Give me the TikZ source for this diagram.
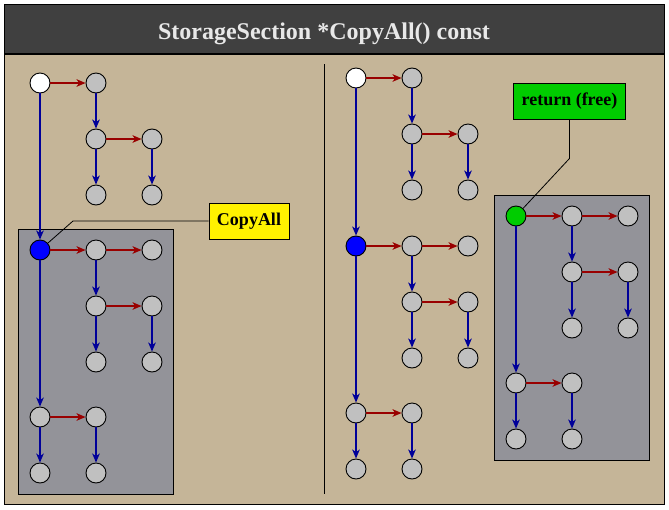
\documentclass[tikz,border=0pt]{standalone}
\usepackage{fontspec}
\setmainfont{Liberation Serif}
\usepackage{tikz}
\usetikzlibrary{arrows.meta,positioning,fit,backgrounds,calc}
\definecolor{sand}{RGB}{197,181,152}
\definecolor{titlebar}{RGB}{64,64,64}
\definecolor{headtext}{RGB}{232,232,232}
\definecolor{panegray}{RGB}{147,147,153}
\definecolor{cellgray}{RGB}{192,192,192}
\definecolor{nextred}{RGB}{153,0,0}
\definecolor{downblue}{RGB}{0,0,153}
\definecolor{markblue}{RGB}{0,0,255}
\definecolor{markgreen}{RGB}{0,204,0}
\tikzset{
	cell/.style={circle, draw=black, fill=cellgray, minimum size=20pt,
		inner sep=0pt, line width=0.9pt},
	link/.style={line width=2pt, -{Stealth[length=9pt,width=7.5pt,inset=2.5pt]}},
	nx/.style={link, draw=nextred},
	dn/.style={link, draw=downblue},
	pane/.style={draw=black, fill=panegray, line width=0.9pt,
		inner xsep=11.3pt, inner ysep=10.5pt},
	tag/.style={draw=black, line width=0.9pt, minimum height=36pt, inner xsep=8pt,
		font=\bfseries\fontsize{18}{21}\selectfont},
	leader/.style={draw=black, line width=0.8pt},
	frame/.style={draw=black, line width=1.3pt},
	headline/.style={text=headtext, anchor=base,
		font=\bfseries\fontsize{24}{28}\selectfont}
}
% small fork hanging to the right of #1
\newcommand{\twig}[1]{%
	\node[cell, right=of #1]    (#1r)    {};
	\node[cell, below=of #1r]   (#1rd)   {};
	\node[cell, right=of #1rd]  (#1rdr)  {};
	\node[cell, below=of #1rd]  (#1rdd)  {};
	\node[cell, below=of #1rdr] (#1rdrd) {};
	\draw[nx] (#1) -- (#1r);
	\draw[dn] (#1r) -- (#1rd);
	\draw[nx] (#1rd) -- (#1rdr);
	\draw[dn] (#1rd) -- (#1rdd);
	\draw[dn] (#1rdr) -- (#1rdrd);
}
% the section below #1 that gets copied
\newcommand{\subcopy}[1]{%
	\twig{#1}
	\node[cell, right=of #1r]      (#1rr)  {};
	\node[cell, below=167pt of #1] (#1d)   {};
	\node[cell, right=of #1d]      (#1dr)  {};
	\node[cell, below=of #1d]      (#1dd)  {};
	\node[cell, below=of #1dr]     (#1drd) {};
	\draw[nx] (#1r) -- (#1rr);
	\draw[dn] (#1) -- (#1d);
	\draw[nx] (#1d) -- (#1dr);
	\draw[dn] (#1d) -- (#1dd);
	\draw[dn] (#1dr) -- (#1drd);
}
\begin{document}
\begin{tikzpicture}[x=1pt, y=-1pt, node distance=56pt, on grid]
	\useasboundingbox (0,0) rectangle (669,509);
	\begin{scope}[on background layer]
		\draw[frame, fill=sand] (4.5,4.5) rectangle (664.5,504.5);
		\draw[frame, fill=titlebar] (4.5,4.5) rectangle (664.5,54);
	\end{scope}
	\node[headline] (head) at (324,39.5) {StorageSection *CopyAll() const};
	\draw[line width=0.9pt] (324.5,64) -- (324.5,494);

	% before the copy
	\node[cell, fill=white] (L) at (40,83) {};
	\twig{L}
	\node[cell, fill=markblue, below=167pt of L] (Ls) {};
	\draw[dn] (L) -- (Ls);
	\subcopy{Ls}
	\begin{scope}[on background layer]
		\node[pane, fit=(Ls) (Lsrr) (Lsdd)] (Lpane) {};
	\end{scope}

	% after the copy
	\node[cell, fill=white] (R) at (356,78) {};
	\twig{R}
	\node[cell, fill=markblue, below=168pt of R] (Rs) {};
	\draw[dn] (R) -- (Rs);
	\subcopy{Rs}

	\node[cell, fill=markgreen] (G) at (516,216) {};
	\subcopy{G}
	\begin{scope}[on background layer]
		\node[pane, fit=(G) (Grr) (Gdd)] (Gpane) {};
	\end{scope}

	\node[tag, fill=yellow] (copytag) at (249,221) {CopyAll};
	\draw[leader] (copytag.west) -- ($(Ls)+(33,-29)$) -- (Ls);
	\node[tag, fill=markgreen] (freetag) at (569.5,101) {return (free)};
	\draw[leader] (freetag.south) -- ++(0,39) -- (G);
\end{tikzpicture}
\end{document}
